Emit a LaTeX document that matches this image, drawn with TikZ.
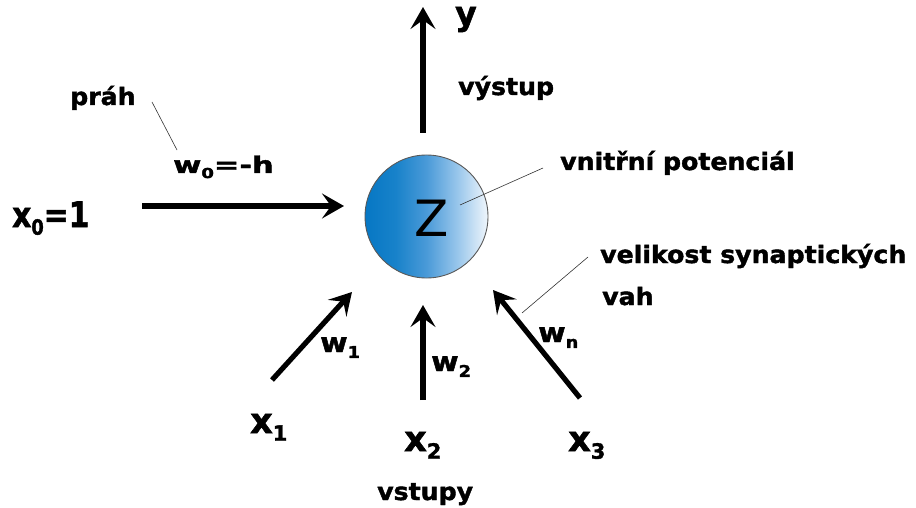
\documentclass[tikz,border=0pt]{standalone}
\usepackage{fontspec}
\setmainfont{DejaVu Sans}[BoldFont={DejaVu Sans Bold}, BoldFeatures={FakeBold=1.6}]
\usetikzlibrary{arrows.meta}
\definecolor{zblue}{HTML}{0677C4}
\definecolor{zdeep}{HTML}{1882CA}
\definecolor{zmid}{HTML}{4A9AD8}
\definecolor{zpale}{HTML}{98C6EB}
\definecolor{zlight}{HTML}{F0F6FC}
\pgfdeclarehorizontalshading{zshade}{100bp}{color(0bp)=(zblue); color(25bp)=(zblue);
  color(37.5bp)=(zdeep); color(50bp)=(zmid); color(62.5bp)=(zpale);
  color(75bp)=(zlight); color(100bp)=(zlight)}
\newcommand{\idx}[1]{\raisebox{-0.22em}{\scalebox{0.6}{#1}}}
\tikzset{
  sig/.style={line width=5.2pt, -{Stealth[length=22pt, width=25pt, inset=9pt]}},
  lead/.style={line width=0.6pt, black!80},
  note/.style={anchor=base west, inner sep=0pt, font=\fontsize{24}{28}\selectfont\bfseries, xscale=1.05},
  wlbl/.style={anchor=base west, inner sep=0pt, font=\fontsize{27}{30}\selectfont\bfseries, xscale=1.1},
  xlbl/.style={anchor=base west, inner sep=0pt, font=\fontsize{35}{40}\selectfont\bfseries},
}

\begin{document}
\begin{tikzpicture}[x=1pt, y=-1pt]
\useasboundingbox (0,0) rectangle (916,508);

%--- Neuron body
\node[circle, inner sep=0pt, minimum size=123pt, draw=black!65, line width=0.9pt,
      shading=zshade] (neuron) at (426.5,216.5) {};
\node[inner sep=0pt, font=\normalfont\fontsize{50}{50}\selectfont] (pot) at (432,218.5) {Z};

%--- Arrow end points
\coordinate (x0tail) at (142,206);  \coordinate (x0tip) at (344,206);
\coordinate (ytail)  at (423,133);  \coordinate (ytip)  at (423,7);
\coordinate (x1tail) at (272,380);  \coordinate (x1tip) at (352,292);
\coordinate (x2tail) at (423,400);  \coordinate (x2tip) at (423,305);
\coordinate (x3tail) at (580,398);  \coordinate (x3tip) at (493,290);

\draw[sig] (x0tail) -- (x0tip);
\draw[sig] (ytail)  -- (ytip);
\draw[sig] (x1tail) -- (x1tip);
\draw[sig] (x2tail) -- (x2tip);
\draw[sig] (x3tail) -- (x3tip);

%--- Output labels
\node[xlbl, font=\fontsize{33}{36}\selectfont\bfseries] (y) at (455,25) {y};
\node[note] (vystup) at (458,95) {výstup};

%--- Threshold input
\node[note] (prah) at (70,105) {práh};
\node[wlbl, font=\fontsize{23}{26}\selectfont\bfseries, xscale=1.2] (w0) at (173,173) {w\idx{0}=-h};
\node[xlbl, xscale=0.85] (x0) at (12,227) {x\idx{0}=1};

%--- Inputs and weights
\node[wlbl] (w1) at (320,352) {w\idx{1}};
\node[wlbl] (w2) at (431,371) {w\idx{2}};
\node[wlbl] (wn) at (538,342) {w\idx{n}};
\node[xlbl] (x1) at (250,433) {x\idx{1}};
\node[xlbl] (x2) at (404,451) {x\idx{2}};
\node[xlbl] (x3) at (568,451) {x\idx{3}};
\node[note] (vstupy) at (377,500) {vstupy};

%--- Annotations on the right
\node[note] (vnitrni) at (560,170) {vnitřní potenciál};
\node[note] (velikost) at (600,263) {velikost synaptických};
\node[note] (vah) at (602,305) {vah};

%--- Leader lines
\coordinate (prahA) at (152,102);  \coordinate (prahB) at (177,150);
\coordinate (potA)  at (460,205);  \coordinate (potB)  at (543,168);
\coordinate (vahA)  at (588,257);  \coordinate (vahB)  at (522,313);
\draw[lead] (prahA) -- (prahB);
\draw[lead] (potA) -- (potB);
\draw[lead] (vahA) -- (vahB);

\end{tikzpicture}
\end{document}
